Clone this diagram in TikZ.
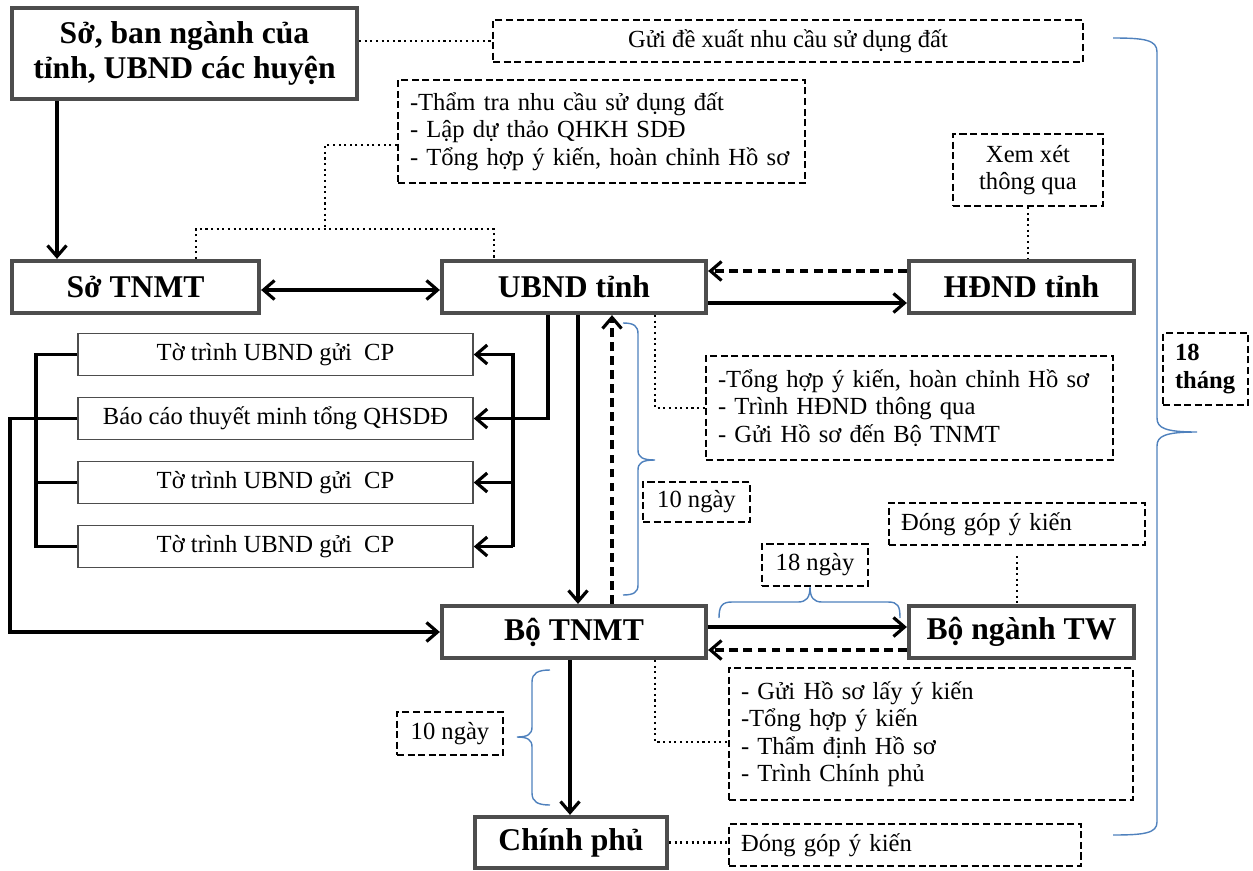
\documentclass[tikz,border=0pt]{standalone}
\usepackage{fontspec}
\setmainfont{Liberation Serif}
\usepackage{tikz}
\usetikzlibrary{arrows.meta,positioning}
\definecolor{bracecol}{RGB}{79,129,189}
\definecolor{boxline}{RGB}{77,77,77}
\tikzset{vtip/.tip={Straight Barb[length=2.2mm,width=3.8mm]}}

\begin{document}
\begin{tikzpicture}[x=0.2mm, y=-0.2mm,
  box/.style={
    draw=boxline, line width=2.4pt, fill=white, align=center,
    minimum height=10.4mm, inner sep=2pt,
    font=\fontsize{18}{19.5}\selectfont\bfseries
  },
  doc/.style={draw=boxline, line width=0.9pt, fill=white,
    minimum width=79mm, minimum height=8.4mm,
    font=\fontsize{14}{16}\selectfont},
  note/.style={draw, line width=1.3pt, dash pattern=on 4pt off 2pt,
    inner xsep=2.4mm, inner ysep=1pt, align=left,
    font=\fontsize{14}{15.6}\selectfont},
  arr/.style={-vtip, line width=1.8pt},
  both/.style={vtip-vtip, line width=1.8pt},
  darr/.style={-vtip, line width=1.8pt, dash pattern=on 5pt off 3pt},
  wire/.style={line width=1.8pt},
  dotline/.style={dotted, line width=1.2pt},
  brc/.style={draw=bracecol, line width=0.8pt}
]
\useasboundingbox (0,0) rectangle (1253,870);

% main boxes
\node[box, minimum width=69mm, minimum height=18.2mm] (src) at (184.5,53.5)
  {Sở, ban ngành của\\tỉnh, UBND các huyện};
\node[box, minimum width=49.4mm]   (sotnmt)  at (135.5,287)  {Sở TNMT};
\node[box, minimum width=52.8mm]   (ubnd)    at (574,287)    {UBND tỉnh};
\node[box, minimum width=45mm]     (hdnd)    at (1021.5,287) {HĐND tỉnh};
\node[box, minimum width=52.8mm]   (botnmt)  at (574,632)    {Bộ TNMT};
\node[box, minimum width=45mm]     (bonganh) at (1021.5,632) {Bộ ngành TW};
\node[box, minimum width=38.4mm, minimum height=10.2mm] (cp) at (571,842.5) {Chính phủ};

% documents
\node[doc] (tt1) at (275.5,354.5) {Tờ trình UBND gửi~~CP};
\node[doc] (bc)  at (275.5,418.5) {Báo cáo thuyết minh tổng QHSDĐ};
\node[doc] (tt2) at (275.5,482.5) {Tờ trình UBND gửi~~CP};
\node[doc] (tt3) at (275.5,546.5) {Tờ trình UBND gửi~~CP};

% dashed notes
\node[note, minimum width=118mm, minimum height=8.4mm, align=center] (guide) at (788,41)
  {Gửi đề xuất nhu cầu sử dụng đất};
\node[note, text width=76.6mm, minimum height=20.6mm] (thamtra) at (601.5,131.5)
  {-Thẩm tra nhu cầu sử dụng đất\\- Lập dự thảo QHKH SDĐ\\- Tổng hợp ý kiến, hoàn chỉnh Hồ sơ};
\node[note, minimum width=30mm, minimum height=14.4mm, align=center] (xemxet) at (1028,170)
  {Xem xét\\thông qua};
\node[note, text width=76.6mm, minimum height=20.8mm] (tonghop) at (909.5,408)
  {-Tổng hợp ý kiến, hoàn chỉnh Hồ sơ\\- Trình HĐND thông qua\\- Gửi Hồ sơ đến Bộ TNMT};
\node[note, minimum width=21.4mm, minimum height=8mm, align=center] (ngay10a) at (696.5,502) {10 ngày};
\node[note, text width=46.4mm, minimum height=8.4mm] (donggop1) at (1017,524) {Đóng góp ý kiến};
\node[note, minimum width=21.2mm, minimum height=8.4mm, align=center] (ngay18) at (815,565) {18 ngày};
\node[note, text width=76mm, minimum height=26.4mm] (guiho) at (931,734)
  {- Gửi Hồ sơ lấy ý kiến\\-Tổng hợp ý kiến\\- Thẩm định Hồ sơ\\- Trình Chính phủ};
\node[note, minimum width=21.2mm, minimum height=8.6mm, align=center] (ngay10b) at (450,733.5) {10 ngày};
\node[note, text width=65.6mm, minimum height=8.4mm] (donggop2) at (905,845) {Đóng góp ý kiến};
\node[note, text width=12.2mm, minimum height=14.4mm, font=\fontsize{14}{15.6}\selectfont\bfseries]
  (thang18) at (1205.5,369) {18\\tháng};

\coordinate (rb) at (513,0);
\coordinate (lb) at (36,0);
\coordinate (ll) at (10,630);
\coordinate (jt) at (325,229);

% flow
\draw[arr] ([xshift=-25.5mm]src.south) -- ([xshift=-25.5mm]src.south |- sotnmt.north);
\draw[both] ([yshift=-0.6mm]sotnmt.east) -- ([yshift=-0.6mm]ubnd.west);
\draw[darr] ([yshift=3.2mm]hdnd.west) -- ([yshift=3.2mm]ubnd.east);
\draw[arr] ([yshift=-3.2mm]ubnd.east) -- ([yshift=-3.2mm]hdnd.west);
\draw[arr] ([xshift=0.8mm]ubnd.south) -- ([xshift=0.8mm]botnmt.north);
\draw[darr] ([xshift=7.6mm]botnmt.north) -- ([xshift=7.6mm]ubnd.south);
\draw[arr] ([xshift=-5.2mm]ubnd.south) |- (bc.east);
\draw[arr] (rb |- tt3.east) |- (tt1.east);
\draw[arr] (rb |- tt2.east) -- (tt2.east);
\draw[arr] (rb |- tt3.east) -- (tt3.east);
\draw[wire] (tt1.west) -| (lb |- tt3.west) -- (tt3.west);
\draw[wire] (lb |- tt2.west) -- (tt2.west);
\draw[arr] (bc.west) -| (ll) |- (botnmt.west);
\draw[arr] ([yshift=1mm]botnmt.east) -- ([yshift=1mm]bonganh.west);
\draw[darr] ([yshift=-3.6mm]bonganh.west) -- ([yshift=-3.6mm]botnmt.east);
\draw[arr] ([xshift=-0.8mm]botnmt.south) -- ([xshift=-0.8mm]botnmt.south |- cp.north);

% dotted links to notes
\draw[dotline] (src.east |- guide.west) -- (guide.west);
\draw[dotline] ([yshift=-2.7mm]thamtra.west) -| (jt);
\draw[dotline] ([xshift=12.1mm]sotnmt.north) |- (jt) -| ([xshift=-16mm]ubnd.north);
\draw[dotline] (xemxet.south) -- (xemxet.south |- hdnd.north);
\draw[dotline] ([xshift=16.2mm]ubnd.south) |- (tonghop.west);
\draw[dotline] ([yshift=-2mm]donggop1.south) -- (donggop1.south |- bonganh.north);
\draw[dotline] ([xshift=16.2mm]botnmt.south) |- ([yshift=-1.6mm]guiho.west);
\draw[dotline] (cp.east) -- (cp.east -| donggop2.west);

% braces
\draw[brc] (623,323) .. controls (634,323) and (638,326) .. (638,334) -- (638,450)
  .. controls (638,457) and (642,460) .. (655,460)
  .. controls (642,460) and (638,463) .. (638,470) -- (638,585)
  .. controls (638,592) and (634,595) .. (623,595);
\draw[brc] (719,618) .. controls (719,606) and (722,602) .. (732,602) -- (798,602)
  .. controls (806,602) and (810,598) .. (810,587)
  .. controls (810,598) and (814,602) .. (822,602) -- (888,602)
  .. controls (898,602) and (900,606) .. (900,618);
\draw[brc] (550,670) .. controls (538,670) and (532,673) .. (532,682) -- (532,727)
  .. controls (532,734) and (528,737) .. (517,737)
  .. controls (528,737) and (532,740) .. (532,747) -- (532,793)
  .. controls (532,802) and (538,805) .. (550,805);
\draw[brc] (1113,38) .. controls (1145,38) and (1157,40) .. (1157,52) -- (1157,418)
  .. controls (1157,428) and (1165,432) .. (1197,432)
  .. controls (1165,432) and (1157,436) .. (1157,446) -- (1157,822)
  .. controls (1157,833) and (1145,835) .. (1113,835);
\end{tikzpicture}
\end{document}
